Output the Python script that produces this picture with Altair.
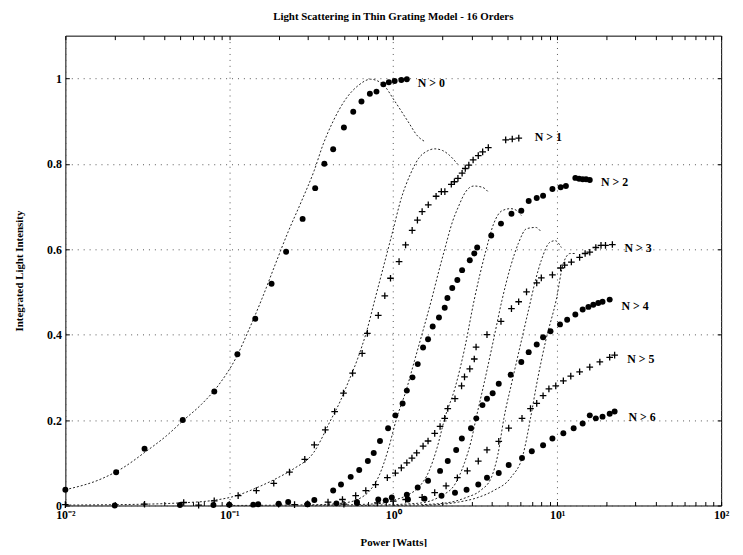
import altair as alt
import pandas as pd

# ---------------- measured data (asterisk series) ----------------
n0_x = [0.01, 0.0204, 0.0304, 0.052, 0.081, 0.112, 0.144, 0.181, 0.222, 0.28, 0.334, 0.38, 0.43, 0.5, 0.57, 0.64, 0.72, 0.79, 0.87, 0.94, 1.02, 1.12, 1.21]
n0_y = [0.037, 0.078, 0.133, 0.200, 0.267, 0.354, 0.437, 0.519, 0.594, 0.671, 0.743, 0.80, 0.834, 0.885, 0.922, 0.946, 0.964, 0.969, 0.986, 0.991, 0.994, 0.996, 0.998]

n2_x = [0.02, 0.05, 0.1, 0.15, 0.2, 0.2286, 0.33, 0.43, 0.48, 0.55, 0.62, 0.70, 0.76, 0.83, 0.93, 1.03, 1.14, 1.21, 1.31, 1.41, 1.52, 1.63, 1.74, 1.9, 2.06, 2.14, 2.29, 2.46, 2.63, 2.93, 3.12, 3.25, 3.96, 4.54, 5.26, 6.04, 6.7, 7.5, 8.2, 9.35, 10.5, 11.3, 12.9, 13.6, 14.3, 15.0, 15.8]
n2_y = [0.0, 0.001, 0.002, 0.003, 0.004, 0.008, 0.013, 0.035, 0.049, 0.067, 0.083, 0.104, 0.123, 0.151, 0.181, 0.211, 0.239, 0.269, 0.30, 0.331, 0.37, 0.389, 0.419, 0.44, 0.463, 0.486, 0.509, 0.528, 0.551, 0.574, 0.59, 0.604, 0.632, 0.66, 0.683, 0.69, 0.713, 0.72, 0.725, 0.741, 0.745, 0.748, 0.767, 0.765, 0.764, 0.764, 0.762]

n4_x = [0.08, 0.3, 0.45, 0.6, 0.81, 0.98, 1.21, 1.41, 1.63, 1.93, 2.15, 2.42, 2.62, 2.98, 3.21, 3.5, 3.73, 4.04, 4.4, 5.2, 6.04, 6.7, 7.5, 8.2, 9.1, 10.4, 11.5, 12.9, 14.3, 15.5, 16.6, 17.8, 18.9, 20.9]
n4_y = [0.001, 0.003, 0.005, 0.008, 0.014, 0.019, 0.025, 0.042, 0.058, 0.081, 0.104, 0.13, 0.157, 0.181, 0.204, 0.235, 0.25, 0.263, 0.285, 0.306, 0.336, 0.359, 0.377, 0.394, 0.408, 0.424, 0.435, 0.447, 0.459, 0.465, 0.47, 0.474, 0.477, 0.482]

n6_x = [0.14, 0.3, 0.6, 0.9, 1.23, 1.55, 1.97, 2.38, 2.8, 3.3, 3.73, 4.4, 5.06, 6.1, 7.0, 8.2, 9.35, 10.9, 12.6, 14.3, 15.8, 17.2, 18.9, 20.9, 22.4]
n6_y = [0.002, 0.003, 0.006, 0.012, 0.014, 0.016, 0.023, 0.03, 0.037, 0.049, 0.065, 0.076, 0.095, 0.111, 0.127, 0.141, 0.157, 0.169, 0.181, 0.192, 0.211, 0.204, 0.208, 0.215, 0.22]

# ---------------- measured data (plus series) ----------------
n1_x = [0.01, 0.0304, 0.0527, 0.0809, 0.1132, 0.1462, 0.1867, 0.2328, 0.2886, 0.33, 0.385, 0.439, 0.497, 0.565, 0.646, 0.695, 0.81, 0.888, 0.962, 1.085, 1.189, 1.304, 1.404, 1.50, 1.635, 1.825, 1.965, 2.064, 2.26, 2.36, 2.48, 2.63, 2.75, 2.89, 3.07, 3.30, 3.51, 3.80, 4.85, 5.32, 5.83]
n1_y = [0.002, 0.003, 0.007, 0.011, 0.023, 0.035, 0.052, 0.078, 0.108, 0.142, 0.177, 0.220, 0.263, 0.310, 0.356, 0.403, 0.445, 0.491, 0.532, 0.571, 0.610, 0.644, 0.668, 0.688, 0.704, 0.724, 0.735, 0.735, 0.752, 0.758, 0.766, 0.778, 0.789, 0.797, 0.809, 0.819, 0.828, 0.838, 0.856, 0.858, 0.860]

n3_x = [0.065, 0.1, 0.2, 0.3, 0.4, 0.49, 0.59, 0.68, 0.78, 0.92, 1.03, 1.12, 1.21, 1.30, 1.39, 1.52, 1.63, 1.79, 1.93, 2.06, 2.15, 2.38, 2.61, 2.72, 2.93, 3.12, 3.2, 3.73, 4.54, 5.26, 5.82, 6.5, 7.5, 8.0, 9.35, 10.5, 11.1, 12.2, 13.7, 14.8, 15.8, 17.2, 18.5, 19.7, 21.7]
n3_y = [0.001, 0.002, 0.003, 0.004, 0.008, 0.014, 0.023, 0.035, 0.049, 0.065, 0.076, 0.088, 0.10, 0.111, 0.123, 0.139, 0.151, 0.169, 0.185, 0.204, 0.227, 0.25, 0.28, 0.301, 0.32, 0.343, 0.371, 0.40, 0.431, 0.461, 0.477, 0.50, 0.521, 0.533, 0.54, 0.556, 0.563, 0.57, 0.581, 0.59, 0.593, 0.604, 0.609, 0.609, 0.611]

n5_x = [0.25, 0.5, 0.8, 1.0, 1.19, 1.5, 1.79, 2.1, 2.46, 2.83, 3.3, 3.73, 4.4, 5.06, 6.1, 6.87, 7.5, 8.2, 8.9, 9.8, 10.9, 12.1, 13.7, 15.8, 18.2, 20.9, 22.4]
n5_y = [0.002, 0.003, 0.006, 0.01, 0.014, 0.019, 0.03, 0.046, 0.065, 0.081, 0.104, 0.13, 0.15, 0.181, 0.204, 0.227, 0.239, 0.257, 0.273, 0.28, 0.292, 0.303, 0.313, 0.324, 0.336, 0.347, 0.352]

# ---------------- thin grating model (dotted curves) ----------------
t0_x = [0.01, 0.0165, 0.0224, 0.0304, 0.0413, 0.0527, 0.0673, 0.086, 0.1096, 0.1318, 0.1585, 0.19, 0.2286, 0.2746, 0.33, 0.373, 0.429, 0.514, 0.615, 0.726, 0.859, 1.028, 1.23, 1.415, 1.56]
t0_y = [0.037, 0.062, 0.088, 0.124, 0.163, 0.200, 0.236, 0.282, 0.345, 0.412, 0.485, 0.563, 0.641, 0.711, 0.785, 0.845, 0.899, 0.952, 0.984, 0.998, 0.987, 0.945, 0.899, 0.864, 0.852]

t1_x = [0.01, 0.03, 0.05, 0.08, 0.106, 0.154, 0.2, 0.247, 0.327, 0.413, 0.476, 0.52, 0.608, 0.687, 0.776, 0.877, 0.991, 1.119, 1.266, 1.43, 1.614, 1.79, 2.0, 2.2, 2.47]
t1_y = [0.001, 0.003, 0.006, 0.012, 0.021, 0.045, 0.066, 0.086, 0.124, 0.198, 0.245, 0.28, 0.345, 0.407, 0.485, 0.563, 0.641, 0.719, 0.774, 0.813, 0.83, 0.835, 0.831, 0.82, 0.799]

t2_x = [0.1, 0.35, 0.5, 0.62, 0.72, 0.82, 0.93, 1.05, 1.2, 1.35, 1.52, 1.72, 1.9, 2.06, 2.3, 2.5, 2.77, 3.1, 3.5, 3.84]
t2_y = [0.0, 0.002, 0.006, 0.016, 0.035, 0.07, 0.13, 0.205, 0.27, 0.34, 0.41, 0.485, 0.55, 0.60, 0.665, 0.70, 0.735, 0.748, 0.745, 0.732]

t3_x = [0.3, 0.8, 1.0, 1.23, 1.45, 1.65, 1.85, 2.06, 2.38, 2.72, 3.12, 3.68, 4.1, 4.6, 5.2, 5.7, 6.04]
t3_y = [0.0, 0.004, 0.012, 0.025, 0.045, 0.08, 0.135, 0.204, 0.275, 0.366, 0.482, 0.598, 0.66, 0.69, 0.695, 0.69, 0.679]

t4_x = [0.6, 1.4, 1.97, 2.38, 2.72, 2.98, 3.2, 3.6, 4.1, 4.6, 5.2, 5.8, 6.5, 7.4, 8.0]
t4_y = [0.0, 0.005, 0.023, 0.05, 0.10, 0.15, 0.204, 0.29, 0.39, 0.48, 0.56, 0.614, 0.648, 0.651, 0.64]

t5_x = [1.0, 2.0, 2.8, 3.4, 3.96, 4.35, 4.73, 5.3, 6.0, 6.8, 7.4, 8.0, 9.0, 9.7, 10.6]
t5_y = [0.0, 0.005, 0.019, 0.035, 0.065, 0.12, 0.204, 0.29, 0.38, 0.47, 0.53, 0.574, 0.616, 0.62, 0.604]

t6_x = [1.5, 2.5, 3.3, 4.1, 5.2, 6.2, 6.87, 7.5, 8.5, 9.87, 10.9, 12.0, 12.9]
t6_y = [0.0, 0.008, 0.019, 0.035, 0.065, 0.12, 0.204, 0.285, 0.385, 0.482, 0.567, 0.59, 0.59]

# ---------------- labels ----------------
lab_text = ["N > 0", "N > 1", "N > 2", "N > 3", "N > 4", "N > 5", "N > 6"]
lab_x = [1.37, 7.1, 18.0, 25.0, 24.0, 26.0, 26.5]
lab_y = [0.988, 0.862, 0.757, 0.603, 0.468, 0.344, 0.208]

# ---------------- axis tick values ----------------
x_major = [0.01, 0.1, 1, 10, 100]
x_minor = [m * 10.0 ** k for k in range(-2, 2) for m in range(1, 10)] + [100]
y_ticks = [0, 0.2, 0.4, 0.6, 0.8, 1.0]

# ---------------- tables ----------------
curves = pd.concat(
    [pd.DataFrame({"x": cx, "y": cy, "curve": f"T{i}"})
     for i, (cx, cy) in enumerate([(t0_x, t0_y), (t1_x, t1_y), (t2_x, t2_y), (t3_x, t3_y),
                                    (t4_x, t4_y), (t5_x, t5_y), (t6_x, t6_y)])],
    ignore_index=True)
stars = pd.concat(
    [pd.DataFrame({"x": sx, "y": sy, "series": s})
     for s, sx, sy in [("N>0", n0_x, n0_y), ("N>2", n2_x, n2_y), ("N>4", n4_x, n4_y), ("N>6", n6_x, n6_y)]],
    ignore_index=True)
pluses = pd.concat(
    [pd.DataFrame({"x": px, "y": py, "series": s})
     for s, px, py in [("N>1", n1_x, n1_y), ("N>3", n3_x, n3_y), ("N>5", n5_x, n5_y)]],
    ignore_index=True)
labels = pd.DataFrame({"x": lab_x, "y": lab_y, "text": lab_text})

FONT = "Liberation Serif"
xscale = alt.Scale(type="log", domain=[0.01, 100], nice=False)
yscale = alt.Scale(domain=[0, 1.1], nice=False, zero=False)

label_expr = ("datum.value < 0.05 ? '10⁻²' : datum.value < 0.5 ? '10⁻¹' : "
              "datum.value < 5 ? '10⁰' : datum.value < 50 ? '10¹' : '10²'")

x_main_axis = alt.Axis(orient="bottom", values=x_major, labelExpr=label_expr, ticks=False, domain=False,
                       grid=True, gridDash=[1, 5], gridColor="#555", gridWidth=1,
                       labelFont=FONT, labelFontSize=12, labelFontWeight="bold", labelColor="black",
                       labelPadding=4, labelFlush=False, labelOverlap=False,
                       title="Power [Watts]", titleFont=FONT, titleFontSize=11, titleFontWeight="bold",
                       titleColor="black", titlePadding=16)
y_main_axis = alt.Axis(orient="left", values=y_ticks, format="~g", ticks=False, domain=False,
                       grid=True, gridDash=[1, 5], gridColor="#555", gridWidth=1,
                       labelFont=FONT, labelFontSize=12, labelFontWeight="bold", labelColor="black",
                       labelPadding=4, labelFlush=False, labelOverlap=False,
                       title="Integrated Light Intensity", titleFont=FONT, titleFontSize=11,
                       titleFontWeight="bold", titleColor="black", titlePadding=22)


def tick_axis(orient, values):
    return alt.Axis(orient=orient, values=values, labels=False, domain=False, grid=False,
                    ticks=True, tickSize=4, offset=-4, tickColor="black", tickWidth=1, title=None)


lines = alt.Chart(curves).mark_line(strokeDash=[2, 2], strokeWidth=1, color="#222",
                                    interpolate="monotone").encode(
    x=alt.X("x:Q", scale=xscale, axis=x_main_axis),
    y=alt.Y("y:Q", scale=yscale, axis=y_main_axis),
    detail="curve:N",
)

star_pts = alt.Chart(stars).mark_point(shape="circle", filled=True, size=36, color="black", opacity=1).encode(
    x=alt.X("x:Q", scale=xscale, axis=tick_axis("bottom", x_minor)),
    y=alt.Y("y:Q", scale=yscale, axis=tick_axis("left", y_ticks)),
)

plus_pts = alt.Chart(pluses).mark_point(shape="M-1,0L1,0M0,-1L0,1", filled=False, size=45,
                                        color="black", strokeWidth=1.3, opacity=1).encode(
    x=alt.X("x:Q", scale=xscale, axis=tick_axis("top", x_minor)),
    y=alt.Y("y:Q", scale=yscale, axis=tick_axis("right", y_ticks)),
)

text = alt.Chart(labels).mark_text(align="left", baseline="middle", font=FONT, fontSize=12,
                                   fontWeight="bold", color="black", dx=2).encode(
    x=alt.X("x:Q", scale=xscale, axis=None),
    y=alt.Y("y:Q", scale=yscale, axis=None),
    text="text:N",
)

chart = alt.layer(lines, star_pts, plus_pts, text).resolve_axis(
    x="independent", y="independent"
).properties(
    width=663,
    height=475,
    autosize=alt.AutoSizeParams(type="none"),
    padding={"left": 58, "top": 25, "right": 14, "bottom": 39},
    title=alt.TitleParams(text="Light Scattering in Thin Grating Model - 16 Orders", font=FONT,
                          fontSize=11, fontWeight="bold", color="black", anchor="middle",
                          frame="group", baseline="alphabetic", offset=4),
).configure_view(stroke="black", strokeWidth=1)

chart.save("out.html", embed_options={"renderer": "svg", "actions": False})
